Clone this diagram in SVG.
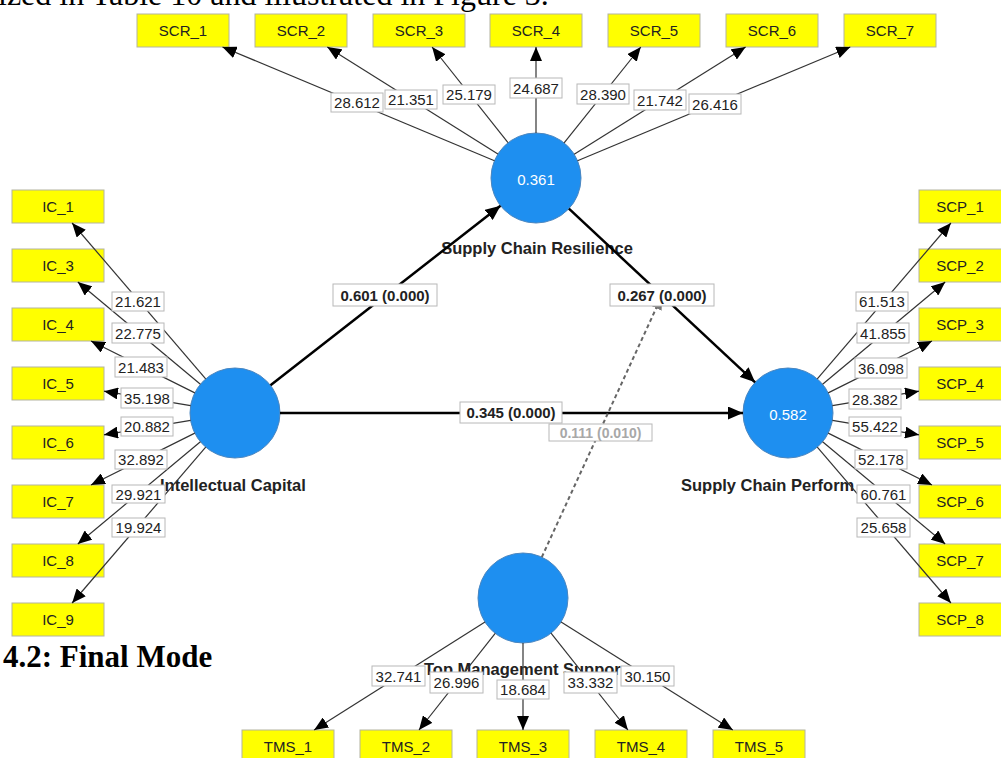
<svg xmlns="http://www.w3.org/2000/svg" width="1001" height="758" viewBox="0 0 1001 758">
<style>
.ind rect{fill:#ffff00;stroke:#b4b4a0;stroke-width:1}
.ind text{font-family:"Liberation Sans",Arial,sans-serif;font-size:15px;fill:#222;text-anchor:middle}
.lv circle{fill:#1e8ff0;stroke:#4a86c0;stroke-width:1}
.lv text.r2{font-family:"Liberation Sans",Arial,sans-serif;font-size:15px;fill:#fff;text-anchor:middle}
.name{font-family:"Liberation Sans",Arial,sans-serif;font-size:16.5px;font-weight:bold;fill:#222}
.ld{stroke:#333;stroke-width:1.2;fill:none;marker-end:url(#ah)}
.pth{stroke:#000;stroke-width:2.5;fill:none;marker-end:url(#ahb)}
.mod{stroke:#666;stroke-width:2;stroke-dasharray:4 3;fill:none;marker-end:url(#ahg)}
.lb rect{fill:#fff;stroke:#b8b8b8;stroke-width:1}
.lb text{font-family:"Liberation Sans",Arial,sans-serif;font-size:15px;fill:#222;text-anchor:middle}
.lb text.b{font-weight:bold;font-size:15px}
.lb text.g{font-weight:bold;font-size:14px;fill:#a8a8a8}
.page{font-family:"Liberation Serif","Times New Roman",serif;fill:#000}
</style>
<defs>
<marker id="ah" markerUnits="userSpaceOnUse" markerWidth="14" markerHeight="12" viewBox="0 0 14 12" refX="14" refY="6" orient="auto"><path d="M0,0 L14,6 L0,12 z" fill="#000"/></marker>
<marker id="ahb" markerUnits="userSpaceOnUse" markerWidth="15" markerHeight="13" viewBox="0 0 15 13" refX="15" refY="6.5" orient="auto"><path d="M0,0 L15,6.5 L0,13 z" fill="#000"/></marker>
<marker id="ahg" markerUnits="userSpaceOnUse" markerWidth="14" markerHeight="12" viewBox="0 0 14 12" refX="14" refY="6" orient="auto"><path d="M0,0 L14,6 L0,12 z" fill="#777"/></marker>
</defs>
<rect width="1001" height="758" fill="#fff"/>
<text class="page" x="-2" y="5" font-size="32">ized in Table 10 and illustrated in Figure 3.</text>
<text class="page" x="3" y="667" font-size="31" font-weight="bold">4.2: Final Mode</text>

<g id="SCR_1" class="ind"><rect x="137" y="14" width="92" height="33"/><text x="183" y="36">SCR_1</text></g>
<g id="SCR_2" class="ind"><rect x="255" y="14" width="92" height="33"/><text x="301" y="36">SCR_2</text></g>
<g id="SCR_3" class="ind"><rect x="373" y="14" width="92" height="33"/><text x="419" y="36">SCR_3</text></g>
<g id="SCR_4" class="ind"><rect x="490" y="14" width="92" height="33"/><text x="536" y="36">SCR_4</text></g>
<g id="SCR_5" class="ind"><rect x="608" y="14" width="92" height="33"/><text x="654" y="36">SCR_5</text></g>
<g id="SCR_6" class="ind"><rect x="726" y="14" width="92" height="33"/><text x="772" y="36">SCR_6</text></g>
<g id="SCR_7" class="ind"><rect x="844" y="14" width="92" height="33"/><text x="890" y="36">SCR_7</text></g>

<g id="IC_1" class="ind"><rect x="12" y="190" width="92" height="33"/><text x="58" y="212">IC_1</text></g>
<g id="IC_3" class="ind"><rect x="12" y="249" width="92" height="33"/><text x="58" y="271">IC_3</text></g>
<g id="IC_4" class="ind"><rect x="12" y="308" width="92" height="33"/><text x="58" y="330">IC_4</text></g>
<g id="IC_5" class="ind"><rect x="12" y="367" width="92" height="33"/><text x="58" y="389">IC_5</text></g>
<g id="IC_6" class="ind"><rect x="12" y="426" width="92" height="33"/><text x="58" y="448">IC_6</text></g>
<g id="IC_7" class="ind"><rect x="12" y="485" width="92" height="33"/><text x="58" y="507">IC_7</text></g>
<g id="IC_8" class="ind"><rect x="12" y="544" width="92" height="33"/><text x="58" y="566">IC_8</text></g>
<g id="IC_9" class="ind"><rect x="12" y="603" width="92" height="33"/><text x="58" y="625">IC_9</text></g>

<g id="SCP_1" class="ind"><rect x="919" y="190" width="92" height="33"/><text x="960" y="212">SCP_1</text></g>
<g id="SCP_2" class="ind"><rect x="919" y="249" width="92" height="33"/><text x="960" y="271">SCP_2</text></g>
<g id="SCP_3" class="ind"><rect x="919" y="308" width="92" height="33"/><text x="960" y="330">SCP_3</text></g>
<g id="SCP_4" class="ind"><rect x="919" y="367" width="92" height="33"/><text x="960" y="389">SCP_4</text></g>
<g id="SCP_5" class="ind"><rect x="919" y="426" width="92" height="33"/><text x="960" y="448">SCP_5</text></g>
<g id="SCP_6" class="ind"><rect x="919" y="485" width="92" height="33"/><text x="960" y="507">SCP_6</text></g>
<g id="SCP_7" class="ind"><rect x="919" y="544" width="92" height="33"/><text x="960" y="566">SCP_7</text></g>
<g id="SCP_8" class="ind"><rect x="919" y="603" width="92" height="33"/><text x="960" y="625">SCP_8</text></g>

<g id="TMS_1" class="ind"><rect x="242" y="730" width="92" height="33"/><text x="288" y="752">TMS_1</text></g>
<g id="TMS_2" class="ind"><rect x="360" y="730" width="92" height="33"/><text x="406" y="752">TMS_2</text></g>
<g id="TMS_3" class="ind"><rect x="477" y="730" width="92" height="33"/><text x="523" y="752">TMS_3</text></g>
<g id="TMS_4" class="ind"><rect x="595" y="730" width="92" height="33"/><text x="641" y="752">TMS_4</text></g>
<g id="TMS_5" class="ind"><rect x="713" y="730" width="92" height="33"/><text x="759" y="752">TMS_5</text></g>

<g id="SCR" class="lv"><circle cx="536" cy="178" r="45"/><text class="r2" x="536" y="185">0.361</text><text class="name" x="537" y="254" text-anchor="middle">Supply Chain Resilience</text></g>
<g id="IC" class="lv"><circle cx="235" cy="413" r="45"/><text class="name" x="160" y="491">Intellectual Capital</text></g>
<g id="SCP" class="lv"><circle cx="788" cy="413" r="45"/><text class="r2" x="788" y="420">0.582</text><text class="name" x="681" y="491">Supply Chain Perform</text></g>
<g id="TMS" class="lv"><circle cx="523" cy="598" r="45"/><text class="name" x="424" y="675">Top Management Suppor</text></g>

<g id="connectors">
<line class="ld" x1="494.5" y1="160.7" x2="222.5" y2="47"/>
<line class="ld" x1="497.9" y1="154.1" x2="327.3" y2="47"/>
<line class="ld" x1="508" y1="142.7" x2="432.1" y2="47"/>
<line class="ld" x1="536" y1="133" x2="536" y2="47"/>
<line class="ld" x1="564.1" y1="142.9" x2="640.8" y2="47"/>
<line class="ld" x1="574.2" y1="154.2" x2="745.6" y2="47"/>
<line class="ld" x1="577.5" y1="160.7" x2="850.3" y2="47"/>

<line class="ld" x1="205.7" y1="378.8" x2="72.1" y2="223"/>
<line class="ld" x1="200.4" y1="384.2" x2="77.8" y2="282"/>
<line class="ld" x1="194.8" y1="392.9" x2="91" y2="341"/>
<line class="ld" x1="190.6" y1="405.6" x2="104" y2="391.2"/>
<line class="ld" x1="190.6" y1="420.4" x2="104" y2="434.8"/>
<line class="ld" x1="194.8" y1="433.1" x2="91" y2="485"/>
<line class="ld" x1="200.4" y1="441.8" x2="77.8" y2="544"/>
<line class="ld" x1="205.7" y1="447.2" x2="72.1" y2="603"/>

<line class="ld" x1="817.3" y1="378.8" x2="950.9" y2="223"/>
<line class="ld" x1="822.6" y1="384.2" x2="945.2" y2="282"/>
<line class="ld" x1="828.2" y1="392.9" x2="932" y2="341"/>
<line class="ld" x1="832.4" y1="405.6" x2="919" y2="391.2"/>
<line class="ld" x1="832.4" y1="420.4" x2="919" y2="434.8"/>
<line class="ld" x1="828.2" y1="433.1" x2="932" y2="485"/>
<line class="ld" x1="822.6" y1="441.8" x2="945.2" y2="544"/>
<line class="ld" x1="817.3" y1="447.2" x2="950.9" y2="603"/>

<line class="ld" x1="485" y1="622" x2="314.1" y2="730"/>
<line class="ld" x1="495.2" y1="633.3" x2="419" y2="730"/>
<line class="ld" x1="523" y1="643" x2="523" y2="730"/>
<line class="ld" x1="551" y1="633.2" x2="627.9" y2="730"/>
<line class="ld" x1="561.1" y1="622" x2="732.8" y2="730"/>

<line class="pth" x1="270.5" y1="385.3" x2="500.5" y2="205.7"/>
<line class="pth" x1="568.9" y1="208.7" x2="755.1" y2="382.3"/>
<line class="pth" x1="280" y1="413" x2="743" y2="413"/>
<line class="mod" x1="541.8" y1="557.1" x2="662" y2="295.5"/>

<g class="lb">
<rect x="331" y="93" width="52" height="19"/><text x="357" y="108">28.612</text>
<rect x="385" y="90" width="52" height="19"/><text x="411" y="105">21.351</text>
<rect x="443" y="85" width="52" height="19"/><text x="469" y="100">25.179</text>
<rect x="510" y="78" width="52" height="20"/><text x="536" y="93.5">24.687</text>
<rect x="577" y="84" width="52" height="20"/><text x="603" y="99.5">28.390</text>
<rect x="634" y="90" width="52" height="20"/><text x="660" y="105.5">21.742</text>
<rect x="689" y="94" width="52" height="20"/><text x="715" y="109.5">26.416</text>

<rect x="112" y="292" width="52" height="19"/><text x="138" y="307">21.621</text>
<rect x="112" y="323" width="52" height="20"/><text x="138" y="338.5">22.775</text>
<rect x="115" y="357" width="52" height="20"/><text x="141" y="372.5">21.483</text>
<rect x="121" y="388" width="52" height="20"/><text x="147" y="403.5">35.198</text>
<rect x="121" y="417" width="52" height="19"/><text x="147" y="432">20.882</text>
<rect x="115" y="450" width="52" height="19"/><text x="141" y="465">32.892</text>
<rect x="112" y="485" width="53" height="18"/><text x="138.5" y="499.5">29.921</text>
<rect x="112" y="518" width="53" height="19"/><text x="138.5" y="533">19.924</text>

<rect x="856" y="292" width="52" height="19"/><text x="882" y="307">61.513</text>
<rect x="857" y="323" width="52" height="20"/><text x="883" y="338.5">41.855</text>
<rect x="855" y="358" width="52" height="20"/><text x="881" y="373.5">36.098</text>
<rect x="849" y="389" width="52" height="20"/><text x="875" y="404.5">28.382</text>
<rect x="849" y="417" width="52" height="19"/><text x="875" y="432">55.422</text>
<rect x="855" y="450" width="52" height="19"/><text x="881" y="465">52.178</text>
<rect x="857" y="485" width="53" height="18"/><text x="883.5" y="499.5">60.761</text>
<rect x="857" y="518" width="53" height="19"/><text x="883.5" y="533">25.658</text>

<rect x="372" y="666" width="53" height="20"/><text x="398.5" y="681.5">32.741</text>
<rect x="430" y="672" width="53" height="21"/><text x="456.5" y="688">26.996</text>
<rect x="497" y="680" width="52" height="19"/><text x="523" y="695">18.684</text>
<rect x="564" y="672" width="53" height="21"/><text x="590.5" y="688">33.332</text>
<rect x="621" y="666" width="53" height="20"/><text x="647.5" y="681.5">30.150</text>

<rect x="333" y="284" width="104" height="22"/><text class="b" x="385" y="300.5">0.601 (0.000)</text>
<rect x="610" y="284" width="104" height="22"/><text class="b" x="662" y="300.5">0.267 (0.000)</text>
<rect x="460" y="402" width="102" height="21"/><text class="b" x="511" y="418">0.345 (0.000)</text>
<rect x="549" y="424" width="103" height="17" stroke="#d0d0d0"/><text class="g" x="600.5" y="437.5">0.111 (0.010)</text>
</g>
</g>
</svg>
